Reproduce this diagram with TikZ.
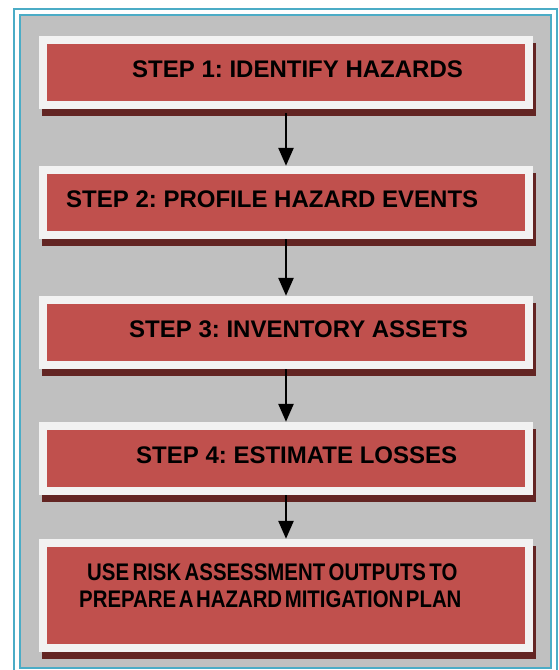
\documentclass[tikz,border=0pt]{standalone}
\usepackage{fontspec}
\setmainfont{Liberation Sans}
\usetikzlibrary{arrows.meta,shadows}
\definecolor{frameblue}{HTML}{4BACC6}
\definecolor{bggrey}{HTML}{C0C0C0}
\definecolor{boxred}{HTML}{C0504D}
\definecolor{boxwhite}{HTML}{F2F2F2}
\definecolor{shadowred}{HTML}{632523}
\frenchspacing
\tikzset{
  stepbox/.style={fill=boxwhite, inner sep=0pt, minimum width=494pt, minimum height=73pt,
    general shadow={fill=shadowred, shadow xshift=3pt, shadow yshift=-7pt}},
  steptext/.style={anchor=base west, inner sep=0pt, font=\fontsize{24}{28}\selectfont\bfseries},
  flow/.style={line width=2.6pt, -{Triangle[width=15pt,length=18pt]}}
}
\newcommand{\redin}[1]{\fill[boxred] ([shift={(8,8)}]#1.north west) rectangle ([shift={(-8,-8)}]#1.south east);}
\begin{document}
\begin{tikzpicture}[x=1pt,y=-1pt]
\useasboundingbox (0,0) rectangle (559,670);
% frame
\draw[frameblue, line width=2.2pt] (14,9) rectangle (557,671);
\draw[frameblue, line width=2.2pt, fill=bggrey] (20,15) rectangle (551,668);
% boxes
\node[stepbox] (b1) at (286,72.5) {};
\redin{b1}
\node[stepbox] (b2) at (286,202.5) {};
\redin{b2}
\node[stepbox] (b3) at (286,332.5) {};
\redin{b3}
\node[stepbox] (b4) at (286,458.5) {};
\redin{b4}
\node[stepbox, minimum height=113pt] (b5) at (286,595.5) {};
\redin{b5}
% texts
\node[steptext] (t1) at (132,77) {STEP 1: IDENTIFY HAZARDS};
\node[steptext] (t2) at (66,207) {STEP 2: PROFILE HAZARD EVENTS};
\node[steptext] (t3) at (129,337) {STEP 3: INVENTORY ASSETS};
\node[steptext] (t4) at (136,463) {STEP 4: ESTIMATE LOSSES};
\node[steptext] (t5a) at (87,580) {\scalebox{0.85}[1]{\spaceskip=4pt USE RISK ASSESSMENT OUTPUTS TO}};
\node[steptext] (t5b) at (79,607) {\scalebox{0.85}[1]{\spaceskip=3pt PREPARE A HAZARD MITIGATION PLAN}};
% arrows
\draw[flow] ([yshift=-4pt]b1.south) -- (b2.north);
\draw[flow] (b2.south) -- (b3.north);
\draw[flow] (b3.south) -- (b4.north);
\draw[flow] (b4.south) -- (b5.north);
\end{tikzpicture}
\end{document}
